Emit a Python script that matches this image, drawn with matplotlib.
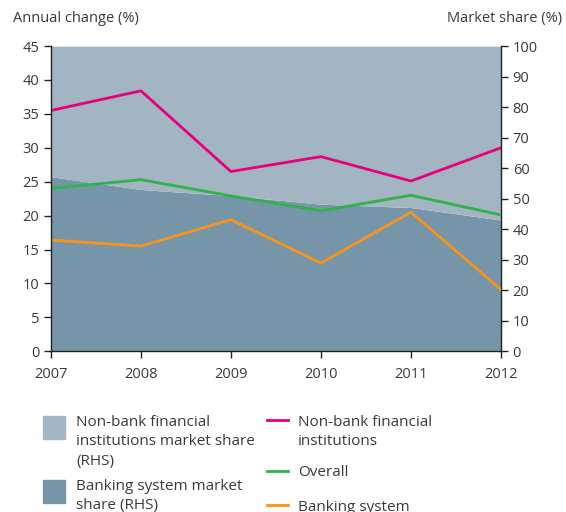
import matplotlib.pyplot as plt
from matplotlib.patches import Rectangle
from matplotlib.lines import Line2D

plt.rcParams["font.family"] = ["Open Sans", "DejaVu Sans"]

# Data
years = [2007, 2008, 2009, 2010, 2011, 2012]
bank_share = [57.2, 53.0, 51.0, 48.2, 47.1, 43.0]  # RHS, %
nonbank_change = [35.5, 38.4, 26.5, 28.7, 25.1, 30.0]
overall_change = [24.0, 25.3, 22.9, 20.7, 23.0, 20.1]
bank_change = [16.4, 15.5, 19.4, 13.0, 20.5, 9.1]

c_light = "#A3B4C2"
c_dark = "#7795A9"
c_pink = "#E6007E"
c_green = "#2DB34A"
c_orange = "#F7941D"
txt = "#3a3a3a"

W, H = 566, 512
fig = plt.figure(figsize=(W / 100, H / 100), dpi=100)
ax = fig.add_axes([0.090, 0.314, 0.795, 0.596])
ax2 = ax.twinx()

# market share areas on the right axis
ax2.fill_between(years, 0, bank_share, color=c_dark, lw=0)
ax2.fill_between(years, bank_share, 100, color=c_light, lw=0)
ax2.set_ylim(0, 100)
ax2.set_yticks(range(0, 101, 10))

# annual change lines on the left axis
ax.set_zorder(ax2.get_zorder() + 1)
ax.patch.set_visible(False)
ax.plot(years, nonbank_change, color=c_pink, lw=2)
ax.plot(years, overall_change, color=c_green, lw=2)
ax.plot(years, bank_change, color=c_orange, lw=2)
ax.set_ylim(0, 45)
ax.set_yticks(range(0, 46, 5))
ax.set_xlim(2007, 2012)
ax.set_xticks(years)

for a in (ax, ax2):
    a.spines["top"].set_visible(False)
    for s in ("left", "right", "bottom"):
        a.spines[s].set_color("#222222")
        a.spines[s].set_linewidth(1)
    a.tick_params(colors="#222222", labelcolor=txt, labelsize=10.5, length=5, width=1)
ax.spines["right"].set_visible(False)
ax2.spines["left"].set_visible(False)
ax2.spines["bottom"].set_visible(False)
ax.tick_params(axis="x", pad=6)

fig.text(0.023, 0.963, "Annual change (%)", fontsize=10.5, color=txt, va="center")
fig.text(0.993, 0.963, "Market share (%)", fontsize=10.5, color=txt, va="center", ha="right")


# legend, drawn in pixel positions from the top-left corner
def px(x, y):
    return x / W, 1 - y / H


def label(x, y, s):
    fig.text(*px(x, y), s, fontsize=11, color=txt, va="top", linespacing=1.4)


for (y0, col, s) in [(416, c_light, "Non-bank financial\ninstitutions market share\n(RHS)"),
                     (480, c_dark, "Banking system market\nshare (RHS)")]:
    fig.add_artist(Rectangle(px(43, y0 + 23), 22 / W, 23 / H, color=col,
                             transform=fig.transFigure))
    label(76, y0 - 1, s)

for (y0, col, s) in [(419.5, c_pink, "Non-bank financial\ninstitutions"),
                     (470.5, c_green, "Overall"),
                     (505, c_orange, "Banking system")]:
    xa, ya = px(267, y0)
    xb, _ = px(288, y0)
    fig.add_artist(Line2D([xa, xb], [ya, ya], color=col, lw=2,
                          transform=fig.transFigure))
    label(298, y0 - 5, s)

fig.savefig("out.png", dpi=100)
